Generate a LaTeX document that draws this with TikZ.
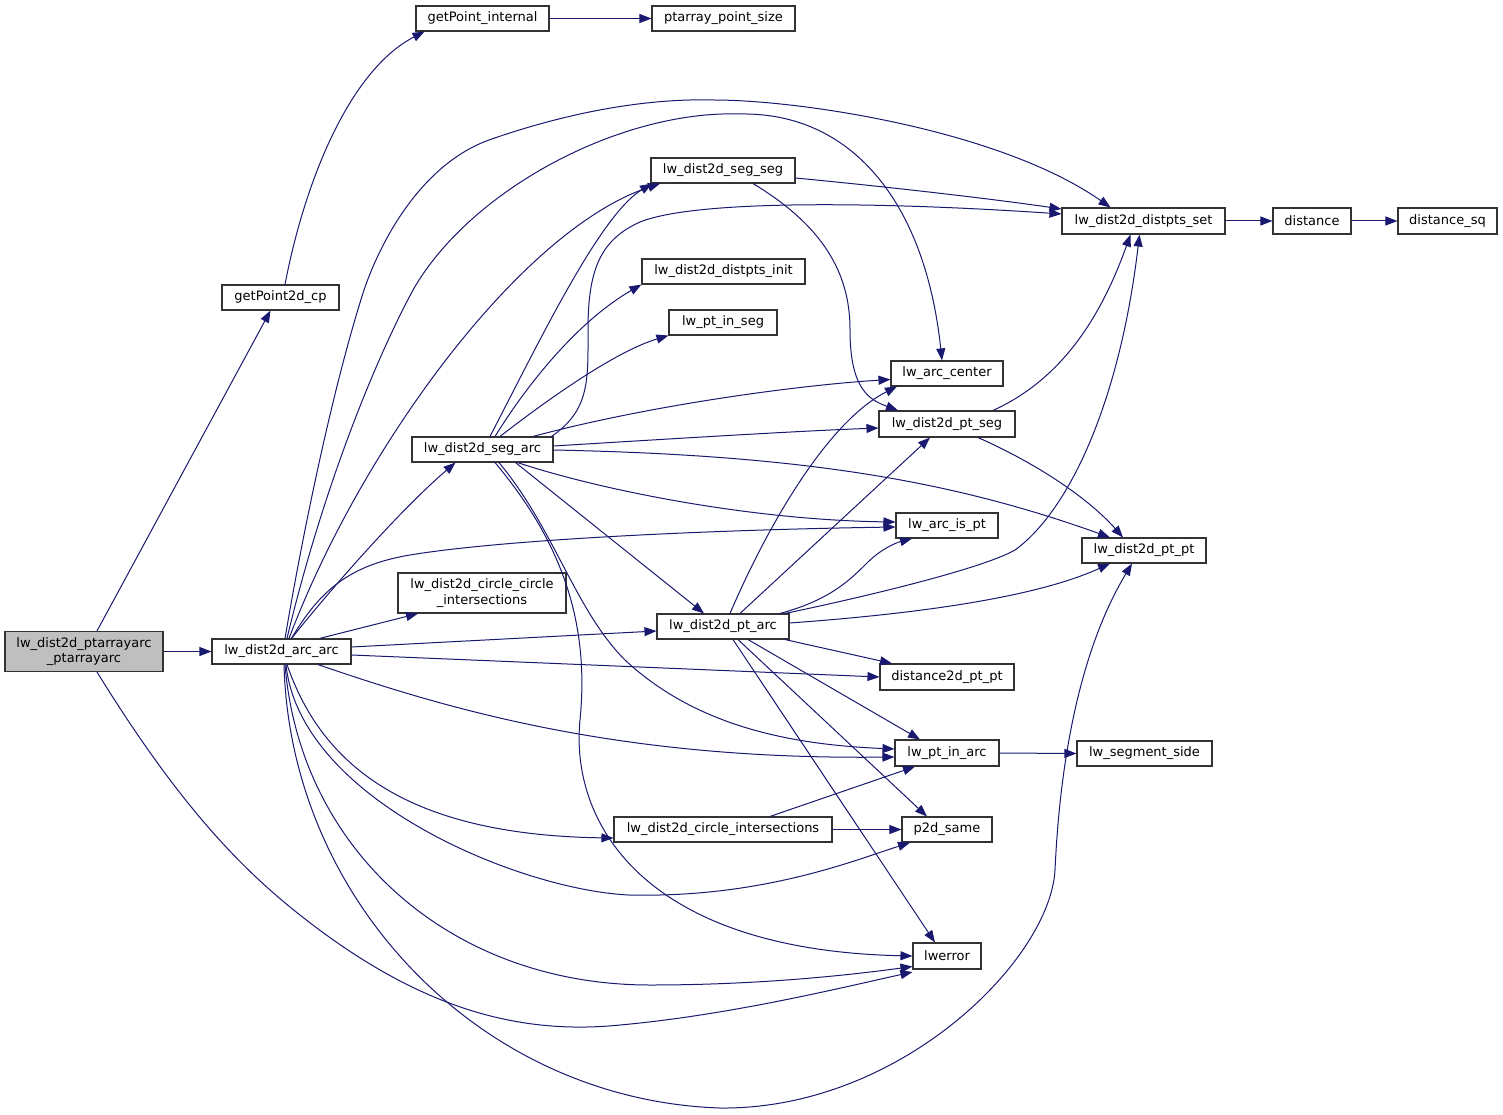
\documentclass[tikz,border=0pt]{standalone}
\usepackage{fontspec}
\setmainfont{DejaVu Sans}
\usetikzlibrary{arrows.meta}
\definecolor{edgecol}{HTML}{191970}
\definecolor{rootfill}{HTML}{BFBFBF}
\begin{document}
\begin{tikzpicture}[x=1pt,y=-1pt,
  box/.style={draw=black!80, line width=1.1pt, fill=white, inner sep=0pt, align=center,
    font=\fontsize{13}{15.5}\selectfont},
  rootbox/.style={box, fill=rootfill},
  edge/.style={draw=edgecol, line width=1pt, -{Triangle[length=12pt,width=9pt]}}]
\useasboundingbox[fill=white] (0,0) rectangle (1503,1115);
% nodes
\node[rootbox, minimum width=158pt, minimum height=40pt] (pa) at (84,651.5) {lw\_dist2d\_ptarrayarc\\\_ptarrayarc};
\node[box, minimum width=117pt, minimum height=25pt] (gp2d) at (280.5,297.5) {getPoint2d\_cp};
\node[box, minimum width=133pt, minimum height=25pt] (gpi) at (482.5,18.5) {getPoint\_internal};
\node[box, minimum width=143pt, minimum height=25pt] (pps) at (723.5,18.5) {ptarray\_point\_size};
\node[box, minimum width=139pt, minimum height=25pt] (aa) at (281.5,651.5) {lw\_dist2d\_arc\_arc};
\node[box, minimum width=144pt, minimum height=25pt] (ss) at (723,170.5) {lw\_dist2d\_seg\_seg};
\node[box, minimum width=163pt, minimum height=26pt] (dps) at (1143.5,221) {lw\_dist2d\_distpts\_set};
\node[box, minimum width=78pt, minimum height=26pt] (dist) at (1312,221) {distance};
\node[box, minimum width=99pt, minimum height=26pt] (dsq) at (1447.5,221) {distance\_sq};
\node[box, minimum width=163pt, minimum height=25pt] (dpi) at (723.5,271.5) {lw\_dist2d\_distpts\_init};
\node[box, minimum width=108pt, minimum height=25pt] (pis) at (723,322.5) {lw\_pt\_in\_seg};
\node[box, minimum width=141pt, minimum height=25pt] (sa) at (482.5,449.5) {lw\_dist2d\_seg\_arc};
\node[box, minimum width=112pt, minimum height=25pt] (ac) at (947,373.5) {lw\_arc\_center};
\node[box, minimum width=136pt, minimum height=26pt] (ps) at (947,424) {lw\_dist2d\_pt\_seg};
\node[box, minimum width=102pt, minimum height=25pt] (aip) at (947,525.5) {lw\_arc\_is\_pt};
\node[box, minimum width=124pt, minimum height=25pt] (pp) at (1144,550.5) {lw\_dist2d\_pt\_pt};
\node[box, minimum width=168pt, minimum height=40pt] (cc) at (482,593) {lw\_dist2d\_circle\_circle\\\_intersections};
\node[box, minimum width=132pt, minimum height=25pt] (pta) at (723,626.5) {lw\_dist2d\_pt\_arc};
\node[box, minimum width=134pt, minimum height=26pt] (d2d) at (947,677) {distance2d\_pt\_pt};
\node[box, minimum width=104pt, minimum height=26pt] (pia) at (947,753) {lw\_pt\_in\_arc};
\node[box, minimum width=135pt, minimum height=25pt] (sside) at (1144.5,753.5) {lw\_segment\_side};
\node[box, minimum width=218pt, minimum height=25pt] (ci) at (723,829.5) {lw\_dist2d\_circle\_intersections};
\node[box, minimum width=90pt, minimum height=25pt] (p2d) at (947,829.5) {p2d\_same};
\node[box, minimum width=68pt, minimum height=26pt] (lw) at (947,956) {lwerror};
% edges from root
\draw[edge] ([xshift=13]pa.north) -- ([xshift=-10]gp2d.south);
\draw[edge] (pa.east) -- (aa.west);
\draw[edge] ([xshift=13]pa.south) .. controls (170,790) and (230,860) .. (300,915) .. controls (420,1010) and (520,1035) .. (620,1025) .. controls (730,1015) and (840,988) .. ([yshift=-16]lw.west);
\draw[edge] ([xshift=4.5]gp2d.north) .. controls (305,180) and (350,70) .. ([xshift=-58]gpi.south);
\draw[edge] (gpi.east) -- (pps.west);
% edges from arc_arc
\draw[edge] ([xshift=3.5]aa.north) .. controls (305,520) and (335,380) .. (364,290) .. controls (380,243) and (420,165) .. (489,140) .. controls (560,115) and (640,98) .. (714,100) .. controls (800,100) and (1000,130) .. ([xshift=-33]dps.north);
\draw[edge] ([xshift=5.5]aa.north) .. controls (320,500) and (370,370) .. (413,290) .. controls (470,190) and (620,110) .. (740,114) .. controls (850,112) and (925,200) .. ([xshift=-5]ac.north);
\draw[edge] ([xshift=7.5]aa.north) .. controls (360,450) and (520,230) .. ([xshift=-63]ss.south);
\draw[edge] ([xshift=10]aa.north) .. controls (330,590) and (400,510) .. ([xshift=-27]sa.south);
\draw[edge] ([xshift=10]aa.north) .. controls (320,590) and (350,565) .. (410,555) .. controls (500,540) and (700,530) .. ([yshift=-1.5]aip.west);
\draw[edge] ([xshift=38]aa.north) -- ([xshift=-64]cc.south);
\draw[edge] ([yshift=4.5]aa.east) -- ([yshift=-4.5]pta.west);
\draw[edge] ([yshift=-3.5]aa.east) -- (d2d.west);
\draw[edge] ([xshift=36.5]aa.south) .. controls (450,710) and (620,760) .. ([yshift=-4]pia.west);
\draw[edge] ([xshift=5.5]aa.south) .. controls (320,760) and (400,835) .. ([yshift=-8.5]ci.west);
\draw[edge] ([xshift=4.5]aa.south) .. controls (300,800) and (520,890) .. (629,895) .. controls (760,898) and (850,862) .. ([xshift=-37]p2d.south);
\draw[edge] ([xshift=3.5]aa.south) .. controls (300,850) and (450,985) .. (650,985) .. controls (760,985) and (850,975) .. ([yshift=-10.5]lw.west);
\draw[edge] ([xshift=2.5]aa.south) .. controls (290,900) and (480,1100) .. (720,1108) .. controls (900,1110) and (1050,960) .. (1055,870) .. controls (1060,760) and (1080,650) .. ([xshift=-12]pp.south);
% edges from seg_arc
\draw[edge] ([xshift=7.5]sa.north) .. controls (540,340) and (600,215) .. ([xshift=-71]ss.south);
\draw[edge] ([xshift=69]sa.north) .. controls (590,410) and (588,380) .. (588,330) .. controls (588,270) and (600,240) .. (640,222) .. controls (700,198) and (900,203) .. ([yshift=7]dps.west);
\draw[edge] ([xshift=12.5]sa.north) .. controls (530,380) and (580,320) .. (dpi.south west);
\draw[edge] ([xshift=17.5]sa.north) .. controls (560,390) and (620,350) .. (pis.south west);
\draw[edge] ([xshift=50.5]sa.north) .. controls (650,405) and (800,385) .. ([yshift=-6]ac.west);
\draw[edge] ([yshift=3.5]sa.east) .. controls (700,437) and (800,431) .. ([yshift=-4]ps.west);
\draw[edge] ([yshift=-0.5]sa.east) .. controls (800,455) and (950,480) .. ([xshift=-34]pp.north);
\draw[edge] ([xshift=35]sa.south) .. controls (600,490) and (750,520) .. ([yshift=3.5]aip.west);
\draw[edge] ([xshift=33]sa.south) -- ([xshift=-19]pta.north);
\draw[edge] ([xshift=16.5]sa.south) .. controls (555,530) and (575,610) .. (625,660) .. controls (700,730) and (800,745) .. ([yshift=4]pia.west);
\draw[edge] ([xshift=12.5]sa.south) .. controls (560,540) and (590,620) .. (580,720) .. controls (570,820) and (640,950) .. (lw.west);
% edges from pt_arc
\draw[edge] ([xshift=7]pta.north) .. controls (770,520) and (830,420) .. ([xshift=-50]ac.south);
\draw[edge] ([xshift=17]pta.north) -- ([xshift=-17]ps.south);
\draw[edge] ([xshift=57]pta.north) .. controls (830,600) and (850,580) .. (868,562) .. controls (880,550) and (895,543) .. ([xshift=-35]aip.south);
\draw[edge] ([xshift=62]pta.north) .. controls (850,600) and (980,570) .. (1015,550) .. controls (1070,510) and (1120,400) .. ([xshift=-4]dps.south);
\draw[edge] ([yshift=3.5]pta.east) .. controls (900,615) and (1030,600) .. ([xshift=-34]pp.south);
\draw[edge] ([xshift=62]pta.south) -- ([xshift=-55]d2d.north);
\draw[edge] ([xshift=25]pta.south) -- ([xshift=-27]pia.north);
\draw[edge] ([xshift=15]pta.south) -- ([xshift=-20]p2d.north);
\draw[edge] ([xshift=10]pta.south) -- ([xshift=-12]lw.north);
% other edges
\draw[edge] ([xshift=46]ps.north) .. controls (1060,380) and (1100,320) .. ([xshift=-13]dps.south);
\draw[edge] ([xshift=31]ps.south) .. controls (1040,465) and (1090,500) .. ([xshift=-21]pp.north);
\draw[edge] ([yshift=-7.5]ss.east) .. controls (900,188) and (1000,200) .. ([yshift=12]dps.west);
\draw[edge] ([xshift=30]ss.south) .. controls (830,230) and (850,280) .. (850,330) .. controls (850,390) and (870,400) .. ([xshift=-49]ps.north);
\draw[edge] ([xshift=47]ci.north) -- ([xshift=-32]pia.south);
\draw[edge] (ci.east) -- (p2d.west);
\draw[edge] (pia.east) -- (sside.west);
\draw[edge] (dps.east) -- (dist.west);
\draw[edge] (dist.east) -- (dsq.west);
\end{tikzpicture}
\end{document}
